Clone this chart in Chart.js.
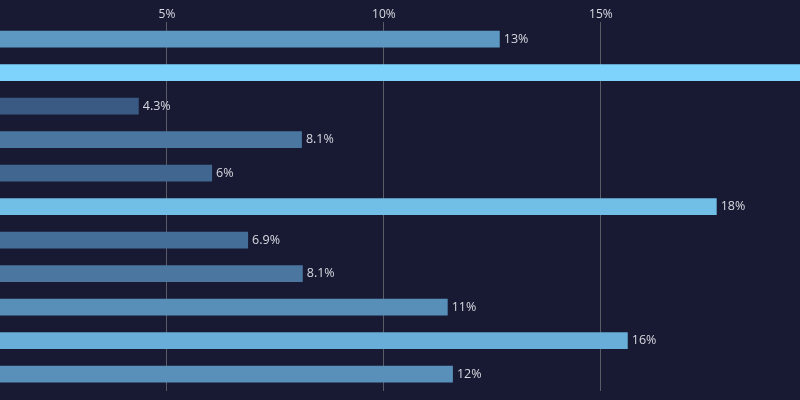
<!DOCTYPE html>
<html>
<head>
<meta charset="utf-8">
<script src="https://cdn.jsdelivr.net/npm/chart.js@4/dist/chart.umd.min.js"></script>
<style>
  html, body { margin: 0; padding: 0; background: #181a34; }
  #wrap { width: 800px; height: 400px; }
</style>
</head>
<body>
<div id="wrap"><canvas id="chart"></canvas></div>
<script>
// data
const categories = ['A', 'B', 'C', 'D', 'E', 'F', 'G', 'H', 'I', 'J', 'K'];
const shares = [12.67, 20.5, 4.35, 8.11, 6.04, 17.67, 6.87, 8.13, 11.47, 15.62, 11.59];
const tickValues = [5, 10, 15];

// colour ramp by value: dark steel blue -> light sky blue
const lo = [58, 90, 132], hi = [125, 211, 252];
const vMin = Math.min(...shares), vMax = Math.max(...shares);
function rampColor(v) {
    const t = (v - vMin) / (vMax - vMin);
    const c = lo.map((l, i) => Math.round(l + (hi[i] - l) * t));
    return `rgb(${c[0]}, ${c[1]}, ${c[2]})`;
}

const fmt = v => parseFloat(v.toPrecision(2)) + '%';

// value labels at the end of each bar
const endLabels = {
    id: 'endLabels',
    afterDatasetsDraw(chart) {
        const ctx = chart.ctx;
        const meta = chart.getDatasetMeta(0);
        ctx.save();
        ctx.font = '12.5px "Open Sans"';
        ctx.fillStyle = '#d8d9e0';
        ctx.textBaseline = 'middle';
        meta.data.forEach((bar, i) => {
            ctx.fillText(fmt(shares[i]), bar.x + 4, bar.y);
        });
        ctx.restore();
    }
};

new Chart(document.getElementById('chart').getContext('2d'), {
    type: 'bar',
    data: {
        labels: categories,
        datasets: [{
            data: shares,
            backgroundColor: shares.map(rampColor),
            borderWidth: 0,
            barPercentage: 0.5,
            categoryPercentage: 1.0
        }]
    },
    options: {
        indexAxis: 'y',
        responsive: true,
        maintainAspectRatio: false,
        animation: false,
        layout: { padding: { top: 6, bottom: 9, left: 0, right: 0 } },
        plugins: { legend: { display: false }, tooltip: { enabled: false } },
        scales: {
            x: {
                position: 'top',
                min: 1.152,
                max: 19.59,
                afterBuildTicks: axis => { axis.ticks = tickValues.map(v => ({ value: v })); },
                grid: { color: '#5a5b66', lineWidth: 1, drawTicks: false },
                border: { display: false },
                ticks: {
                    color: '#d8d9e0',
                    font: { family: 'Open Sans', size: 12 },
                    padding: 1,
                    callback: v => v + '%'
                }
            },
            y: {
                display: false,
                grid: { display: false }
            }
        }
    },
    plugins: [endLabels]
});
</script>
</body>
</html>
